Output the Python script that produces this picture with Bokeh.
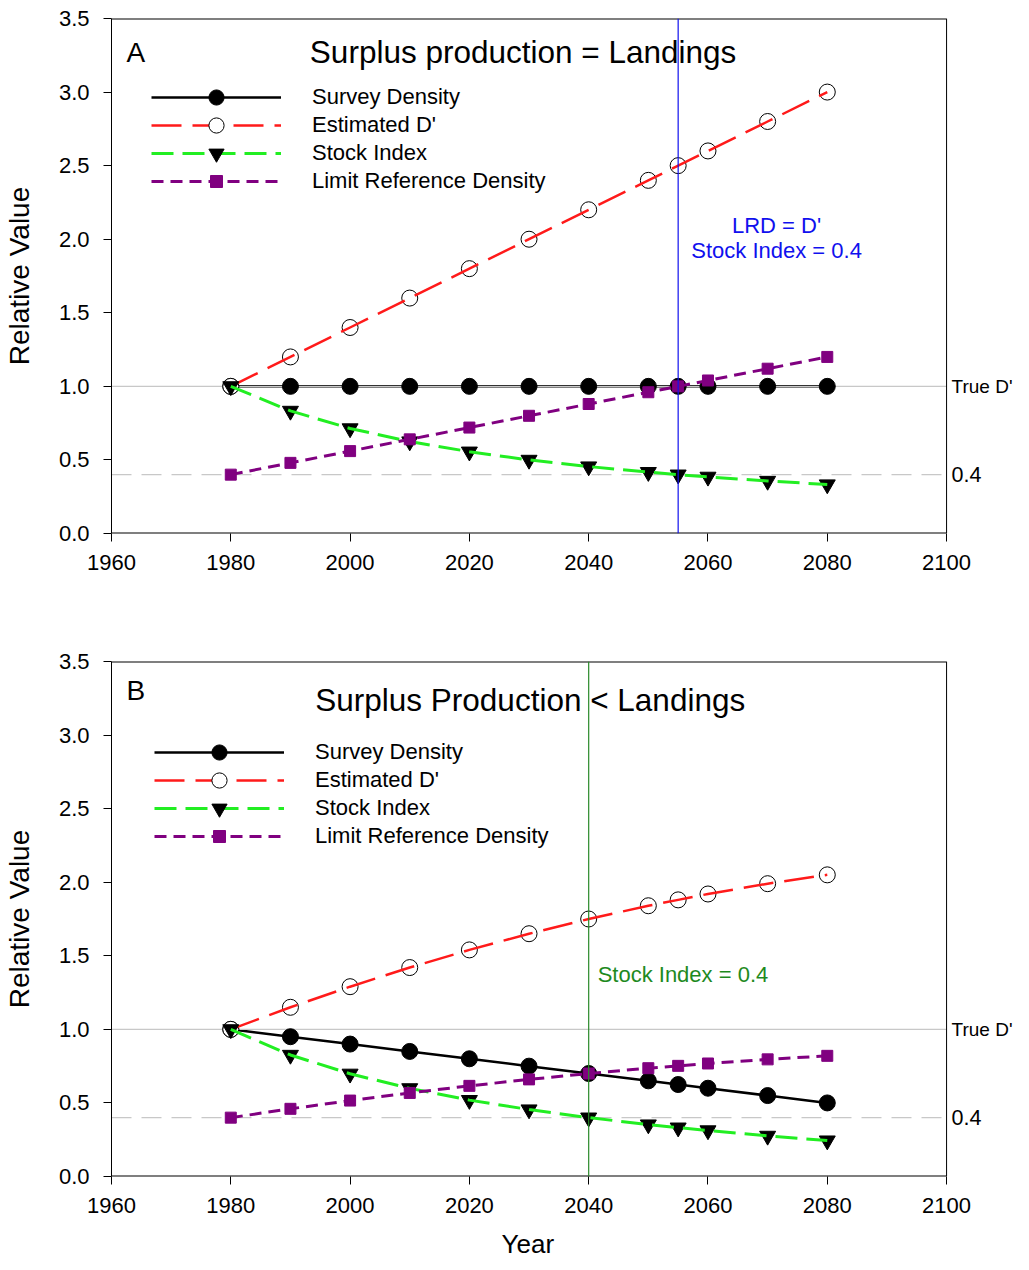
from bokeh.plotting import figure
from bokeh.models import (Span, Label, FixedTicker, Legend, LegendItem,
                          NumeralTickFormatter, Range1d, Title)
from bokeh.layouts import column
from bokeh.embed import file_html
from bokeh.resources import INLINE

# ---------------- data ----------------
years = [1980, 1990, 2000, 2010, 2020, 2030, 2040, 2050, 2055, 2060, 2070, 2080]

# Panel A: Surplus production = Landings
a_survey = [1.0] * 12
a_est_d = [1.0, 1.2, 1.4, 1.6, 1.8, 2.0, 2.2, 2.4, 2.5, 2.6, 2.8, 3.0]
a_stock = [1.0, 0.833, 0.714, 0.625, 0.556, 0.5, 0.455, 0.417, 0.4, 0.385, 0.357, 0.333]
a_lrd = [0.4, 0.48, 0.56, 0.64, 0.72, 0.8, 0.88, 0.96, 1.0, 1.04, 1.12, 1.2]

# Panel B: Surplus Production < Landings
b_survey = [1.0, 0.95, 0.90, 0.85, 0.80, 0.75, 0.70, 0.65, 0.625, 0.60, 0.55, 0.50]
b_est_d = [1.0, 1.15, 1.29, 1.42, 1.54, 1.65, 1.75, 1.84, 1.88, 1.92, 1.99, 2.05]
b_stock = [1.0, 0.826, 0.698, 0.599, 0.519, 0.455, 0.40, 0.353, 0.332, 0.313, 0.276, 0.244]
b_lrd = [0.4, 0.46, 0.516, 0.568, 0.616, 0.66, 0.70, 0.736, 0.752, 0.768, 0.796, 0.82]

series_names = ["Survey Density", "Estimated D'", "Stock Index", "Limit Reference Density"]
x_ticks = [1960, 1980, 2000, 2020, 2040, 2060, 2080, 2100]
y_ticks = [0.0, 0.5, 1.0, 1.5, 2.0, 2.5, 3.0, 3.5]
X_MIN, X_MAX, Y_MIN, Y_MAX = 1960, 2100, 0.0, 3.5
ref_true_d = 1.0
ref_stock = 0.4
ref_labels = ["True D'", "0.4"]
ref_label_sizes = ["19px", "21.5px"]

FONT = "Liberation Sans"
FIG_W = 1013
LEFT_B = 102
AXIS_W = 836          # pixel width of the 1960-2100 box
FRAME_W = 903         # frame width as laid out in the page
# the frame runs to the canvas edge so that the right-hand labels are not clipped
X_VIEW_END = X_MIN + (X_MAX - X_MIN) * FRAME_W / AXIS_W


def make_panel(survey, est_d, stock, lrd, letter, title, title_x, title_y,
               letter_y, vline_x, vline_color, notes, note_color,
               height, border_top, border_bottom, show_xlabel, legend_x, legend_c0):
    p = figure(width=FIG_W, height=height, output_backend="svg", toolbar_location=None,
               x_range=Range1d(X_MIN, X_VIEW_END), y_range=Range1d(Y_MIN, Y_MAX),
               min_border_left=LEFT_B, min_border_right=0,
               min_border_top=border_top, min_border_bottom=border_bottom)
    p.grid.visible = False
    p.outline_line_color = None
    p.background_fill_color = "white"

    # axes
    p.xaxis.ticker = FixedTicker(ticks=x_ticks)
    p.yaxis.ticker = FixedTicker(ticks=y_ticks)
    p.yaxis.formatter = NumeralTickFormatter(format="0.0")
    for ax in (p.xaxis[0], p.yaxis[0]):
        ax.major_tick_in = 0
        ax.major_tick_out = 8
        ax.minor_tick_line_color = None
        ax.axis_line_color = "black"
        ax.major_tick_line_color = "black"
        ax.major_label_text_font = FONT
        ax.major_label_text_font_size = "22px"
        ax.major_label_text_color = "black"
        ax.axis_label_text_font = FONT
        ax.axis_label_text_font_size = "28px"
        ax.axis_label_text_font_style = "normal"
        ax.axis_label_text_color = "black"
    p.xaxis.axis_line_color = None
    p.yaxis.major_label_standoff = 14
    p.yaxis.axis_label = "Relative Value"
    p.yaxis.axis_label_standoff = 21
    p.xaxis.major_label_standoff = 13
    if show_xlabel:
        p.add_layout(Title(text="Year", align="left", offset=390, standoff=22,
                           text_font=FONT, text_font_size="26px", text_font_style="normal",
                           text_color="black"), "below")

    # box lines (bottom, top, right)
    p.segment(x0=[X_MIN, X_MIN], y0=[Y_MIN, Y_MAX], x1=[X_MAX, X_MAX], y1=[Y_MIN, Y_MAX],
              line_color="black", line_width=2)
    p.add_layout(Span(location=X_MAX, dimension="height", line_color="black", line_width=1))

    # survey line, then the grey reference lines over it
    l_surv = p.line(years, survey, line_color="black", line_width=2.5)
    p.segment(x0=[X_MIN], y0=[ref_true_d], x1=[X_MAX], y1=[ref_true_d],
              line_color="#c8c8c8", line_width=1.2)
    p.segment(x0=[X_MIN], y0=[ref_stock], x1=[X_MAX], y1=[ref_stock],
              line_color="#c8c8c8", line_width=1.2, line_dash="20 10")
    for val, txt, fs in zip([ref_true_d, ref_stock], ref_labels, ref_label_sizes):
        p.add_layout(Label(x=X_MAX, y=val, x_offset=5, text=txt, text_font=FONT,
                           text_font_size=fs, text_align="left", text_baseline="middle",
                           text_color="black"))

    # each series: symbols, then its line drawn over them
    m_surv = p.scatter(years, survey, marker="circle", size=16, fill_color="black", line_color="black")
    m_est = p.scatter(years, est_d, marker="circle", size=16, fill_color="white",
                      line_color="black", line_width=1)
    l_est = p.line(years, est_d, line_color="#ff1a1a", line_width=2.5, line_dash="30 11")
    m_stock = p.scatter(years, stock, marker="inverted_triangle", size=16,
                        fill_color="black", line_color="black")
    l_stock = p.line(years, stock, line_color="#22ee22", line_width=3, line_dash="22 9")
    m_lrd = p.scatter(years, lrd, marker="square", size=11, fill_color="#800080", line_color="#800080")
    l_lrd = p.line(years, lrd, line_color="#800080", line_width=3, line_dash="12 7")

    p.add_layout(Span(location=vline_x, dimension="height", line_color=vline_color, line_width=1.2))

    # legend: one legend per row so that markers keep their size at a 28px row pitch
    frame_h = height - border_top - border_bottom
    entries = [(series_names[0], [l_surv, m_surv], 38),
               (series_names[1], [l_est, m_est], 38),
               (series_names[2], [l_stock, m_stock], 38),
               (series_names[3], [l_lrd, m_lrd], 30)]
    for i, (name, rends, gh) in enumerate(entries):
        c = legend_c0 + 28 * i
        ly = frame_h - (c - gh / 2) - gh
        lg = Legend(items=[LegendItem(label=name, renderers=rends)],
                    location=(legend_x, ly), glyph_width=130, glyph_height=gh, label_height=22,
                    label_standoff=31, spacing=0, padding=0, margin=0,
                    border_line_color=None, background_fill_alpha=0,
                    label_text_font=FONT, label_text_font_size="22px", label_text_color="black")
        p.add_layout(lg, "center")

    # texts
    p.add_layout(Label(x=1962.5, y=letter_y, text=letter, text_font=FONT, text_font_size="28px",
                       text_align="left", text_baseline="middle", text_color="black"))
    p.add_layout(Label(x=title_x, y=title_y, text=title, text_font=FONT, text_font_size="31.5px",
                       text_align="center", text_baseline="middle", text_color="black"))
    for (nx, ny, txt, align) in notes:
        p.add_layout(Label(x=nx, y=ny, text=txt, text_font=FONT, text_font_size="22px",
                           text_align=align, text_baseline="middle", text_color=note_color))
    return p


pA = make_panel(a_survey, a_est_d, a_stock, a_lrd, "A", "Surplus production = Landings",
                2029.0, 3.27, 3.27, 2055, "#1010ee",
                [(2071.5, 2.095, "LRD = D'", "center"), (2071.5, 1.925, "Stock Index = 0.4", "center")],
                "#1010ee", height=600, border_top=18, border_bottom=67, show_xlabel=False,
                legend_x=40, legend_c0=79)
pB = make_panel(b_survey, b_est_d, b_stock, b_lrd, "B", "Surplus Production < Landings",
                2030.2, 3.24, 3.306, 2040, "#2a8a2a",
                [(2041.5, 1.374, "Stock Index = 0.4", "left")],
                "#1e8a1e", height=670, border_top=61, border_bottom=94, show_xlabel=True,
                legend_x=43, legend_c0=91)

layout = column(pA, pB, spacing=0)
open("out.html", "w").write(file_html(layout, INLINE))
